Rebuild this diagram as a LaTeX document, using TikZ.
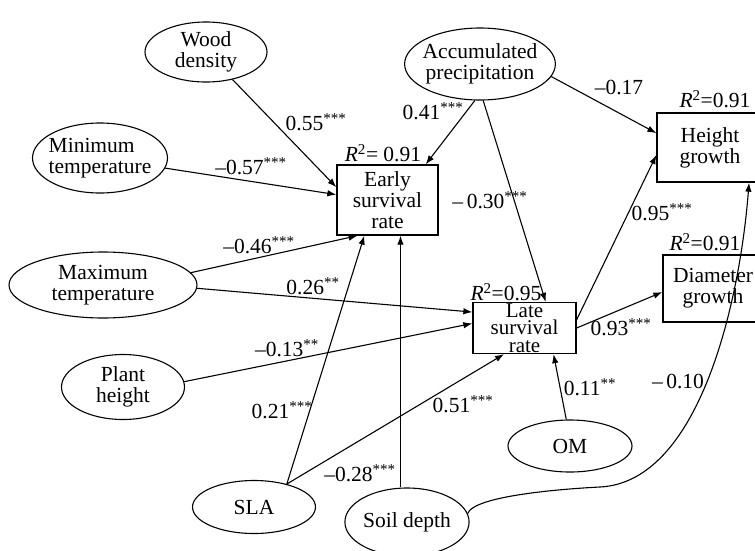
\documentclass[tikz,border=0pt]{standalone}
\usepackage{fontspec}
\setmainfont{Liberation Serif}
\usetikzlibrary{shapes.geometric,arrows.meta}
\begin{document}
\begin{tikzpicture}[x=1pt,y=-1pt,
    every node/.style={font=\fontsize{21.5}{21}\selectfont},
    factor/.style={ellipse,draw,line width=1.1pt,inner sep=0pt,align=center},
    outcome/.style={rectangle,draw,line width=1.3pt,inner sep=0pt,align=center},
    effect/.style={-{Latex[length=9pt,width=6.5pt]},line width=1.1pt},
    coef/.style={inner sep=0pt}]

\def\Rsq{\textit{R}\textsuperscript{2}}
\def\sig#1{\textsuperscript{#1}}
	\useasboundingbox (0,0) rectangle (755,550);
	\clip (0,0) rectangle (755,550);
	\node[factor,minimum width=122pt,minimum height=60pt] (wood) at (206,52) {Wood\\density};
	\node[factor,inner xsep=-4pt,minimum width=150pt,minimum height=72pt] (acc) at (480,64) {Accumulated\\precipitation};
	\node[factor,align=left,inner xsep=-8pt,minimum width=135pt,minimum height=70pt] (mint) at (100,158) {Minimum\\temperature};
	\node[factor,minimum width=188pt,minimum height=66pt] (maxt) at (103,285) {Maximum\\temperature};
	\node[factor,minimum width=123pt,minimum height=65pt] (plant) at (123,387) {Plant\\height};
	\node[factor,minimum width=124pt,minimum height=52pt] (om) at (570,446) {OM};
	\node[factor,minimum width=123pt,minimum height=53pt] (sla) at (254,507) {SLA};
	\node[factor,minimum width=123pt,minimum height=68pt] (soil) at (407,522) {Soil depth};
	\node[outcome,minimum width=101pt,minimum height=70pt] (early) at (387.5,200) {Early\\survival\\rate};
	\node[outcome,minimum width=103pt,minimum height=51pt,font=\fontsize{21}{17.5}\selectfont] (late) at (524.5,328) {Late\\survival\\rate};
	\node[outcome,minimum width=106pt,minimum height=69pt] (height) at (710,147.5) {Height\\growth};
	\node[outcome,minimum width=100pt,minimum height=67pt] (diam) at (713,288.5) {Diameter\\growth};
	\node (earlyR) at (383,153) {\Rsq= 0.91};
	\node (lateR) at (506,292) {\Rsq=0.95};
	\node (heightR) at (715,99) {\Rsq=0.91};
	\node (diamR) at (705,242) {\Rsq=0.91};
	\draw[effect] (wood) -- (early.166);
	\draw[effect] (mint) -- (early.174);
	\draw[effect] (acc.262) -- (early.43);
	\draw[effect] (acc.275) -- (late.51);
	\draw[effect] (acc.350) -- (height.165);
	\draw[effect] (maxt.8) -- (early.230);
	\draw[effect] (maxt.358) -- (late.163);
	\draw[effect] (plant.5) -- (late.175);
	\draw[effect] (sla.35) -- (early.237);
	\draw[effect] (sla.35) -- (late.232);
	\draw[effect] (soil.north -| early.290) -- (early.290);
	\draw[effect] (om.98) -- (late.318);
	\draw[effect] (late.9) -- (height.188);
	\draw[effect] (late.east) -- (diam.184);
	\coordinate (bend) at (600,487);
	\draw[effect] (soil.8) .. controls (474,496) and (560,489) .. (bend) .. controls (700,482) and (740,300) .. (height.318);
	\node[coef] (c55) at (316,122) {0.55\sig{***}};
	\node[coef] (c57) at (251,166) {–0.57\sig{***}};
	\node[coef] (c41) at (433,111) {0.41\sig{***}};
	\node[coef] (c30) at (490,200) {–\,0.30\sig{***}};
	\node[coef] (c17) at (619,87) {–0.17};
	\node[coef] (c46) at (259,245) {–0.46\sig{***}};
	\node[coef] (c26) at (313,286) {0.26\sig{**}};
	\node[coef] (c13) at (287,348) {–0.13\sig{**}};
	\node[coef] (c21) at (282,410) {0.21\sig{***}};
	\node[coef] (c51) at (463,404) {0.51\sig{***}};
	\node[coef] (c28) at (360,473) {–0.28\sig{***}};
	\node[coef] (c11) at (590,387) {0.11\sig{**}};
	\node[coef] (c95) at (662,212) {0.95\sig{***}};
	\node[coef] (c93) at (621,327) {0.93\sig{***}};
	\node[coef] (c10) at (678,381) {–\,0.10};

\end{tikzpicture}
\end{document}
